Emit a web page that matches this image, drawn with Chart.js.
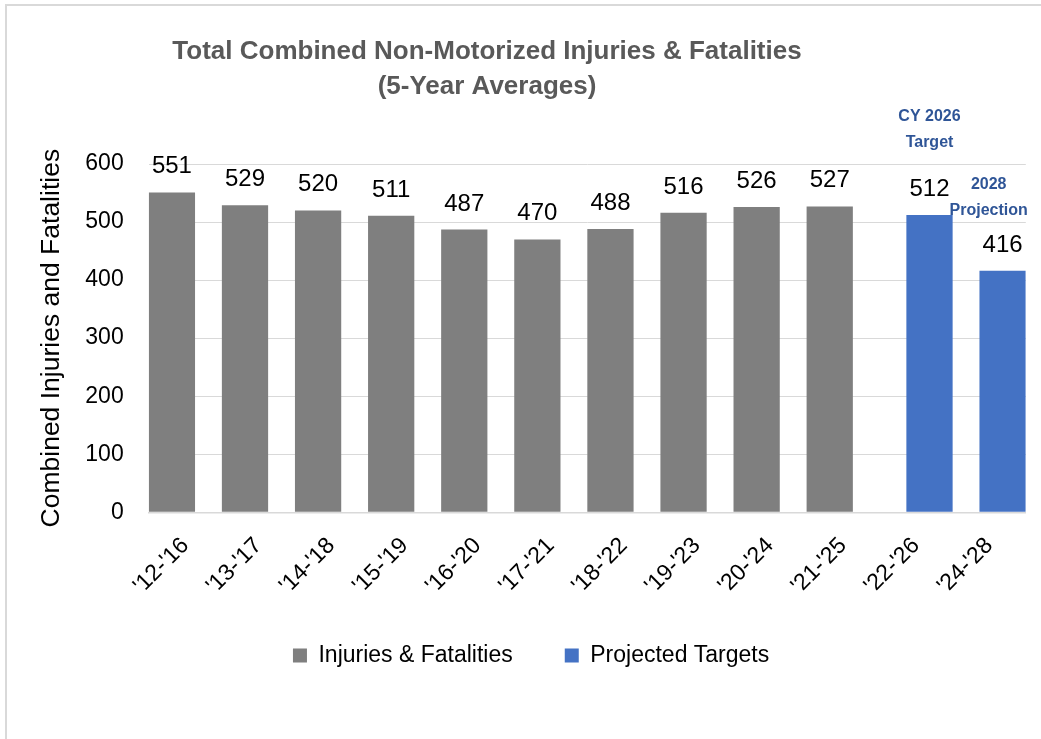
<!DOCTYPE html>
<html>
<head>
<meta charset="utf-8">
<script src="https://cdn.jsdelivr.net/npm/chart.js@4.4.1/dist/chart.umd.min.js"></script>
<style>
  body { margin: 0; background: #fff; }
  #wrap { position: relative; width: 1041px; height: 739px; overflow: hidden; }
  #frame { position: absolute; left: 5px; top: 4px; right: -10px; bottom: -10px;
           border-left: 2px solid #d9d9d9; border-top: 2px solid #d9d9d9; }
  canvas { position: absolute; left: 0; top: 0; }
</style>
</head>
<body>
<div id="wrap">
  <div id="frame"></div>
  <canvas id="chart" width="1041" height="739"></canvas>
</div>
<script>
// data
const categories = ["'12-'16", "'13-'17", "'14-'18", "'15-'19", "'16-'20", "'17-'21",
                    "'18-'22", "'19-'23", "'20-'24", "'21-'25", "'22-'26", "'24-'28"];
const injuries = [551, 529, 520, 511, 487, 470, 488, 516, 526, 527, null, null];
const targets = [null, null, null, null, null, null, null, null, null, null, 512, 416];
const seriesNames = ['Injuries & Fatalities', 'Projected Targets'];
const titleLines = ['Total Combined Non-Motorized Injuries & Fatalities', '(5-Year Averages)'];
const yTitle = 'Combined Injuries and Fatalities';
const notes = [
    { dataset: 1, index: 10, lines: ['CY 2026', 'Target'] },
    { dataset: 1, index: 11, lines: ['2028', 'Projection'] }
];

const FONT = '"Liberation Sans", Arial, sans-serif';

// title over the chart
const titlePlugin = {
    id: 'chartTitle',
    afterDraw(chart) {
        const ctx = chart.ctx;
        ctx.save();
        ctx.font = 'bold 26px ' + FONT;
        ctx.fillStyle = '#595959';
        ctx.textAlign = 'center';
        ctx.textBaseline = 'middle';
        titleLines.forEach((t, i) => ctx.fillText(t, 487, 52 + i * 35));
        ctx.restore();
    }
};

// values above the bars + the blue notes
const valueLabels = {
    id: 'valueLabels',
    afterDatasetsDraw(chart) {
        const ctx = chart.ctx;
        ctx.save();
        ctx.font = '24px ' + FONT;
        ctx.fillStyle = '#000';
        ctx.textAlign = 'center';
        ctx.textBaseline = 'alphabetic';
        chart.data.datasets.forEach((ds, di) => {
            chart.getDatasetMeta(di).data.forEach((bar, i) => {
                if (ds.data[i] == null) return;
                ctx.fillText(ds.data[i], bar.x, bar.y - 19);
            });
        });

        const lift = [98, 86];
        ctx.font = 'bold 16px ' + FONT;
        ctx.fillStyle = '#2f5597';
        ctx.textBaseline = 'middle';
        notes.forEach((n, k) => {
            const bar = chart.getDatasetMeta(n.dataset).data[n.index];
            const w = Math.max(...n.lines.map(l => ctx.measureText(l).width));
            const x = Math.min(bar.x, chart.chartArea.right + 2 - w / 2);
            n.lines.forEach((l, j) => ctx.fillText(l, x, bar.y - lift[k] + j * 26));
        });
        ctx.restore();
    }
};

new Chart(document.getElementById('chart'), {
    type: 'bar',
    data: {
        labels: categories,
        datasets: [
            { label: seriesNames[0], data: injuries, backgroundColor: '#7f7f7f' },
            { label: seriesNames[1], data: targets, backgroundColor: '#4472c4' }
        ]
    },
    options: {
        responsive: false,
        animation: false,
        categoryPercentage: 0.73,
        barPercentage: 1.734,
        layout: { padding: { left: 36.4, right: 15.2, top: 164, bottom: 62 } },
        font: { family: FONT },
        plugins: {
            legend: {
                position: 'bottom',
                labels: {
                    boxWidth: 14, boxHeight: 14, padding: 52, color: '#000',
                    font: { size: 23, family: FONT }
                }
            },
            tooltip: { enabled: false },
            title: { display: false }
        },
        scales: {
            x: {
                grid: { display: false, drawTicks: false },
                border: { display: true, color: '#d9d9d9', width: 1.5 },
                ticks: {
                    color: '#000', font: { size: 23, family: FONT },
                    minRotation: 45, maxRotation: 45, autoSkip: false, padding: 20
                },
                afterFit(scale) { scale.height = 79.7; }
            },
            y: {
                min: 0, max: 600,
                ticks: { stepSize: 100, color: '#000', font: { size: 23, family: FONT }, padding: 25 },
                grid: { color: '#d9d9d9', drawTicks: false },
                border: { display: false },
                title: {
                    display: true, text: yTitle, color: '#000',
                    font: { size: 26.5, family: FONT }, padding: { top: -1, bottom: 0 }
                },
                afterFit(scale) { scale.width = 112.3; }
            }
        }
    },
    plugins: [titlePlugin, valueLabels]
});
</script>
</body>
</html>
